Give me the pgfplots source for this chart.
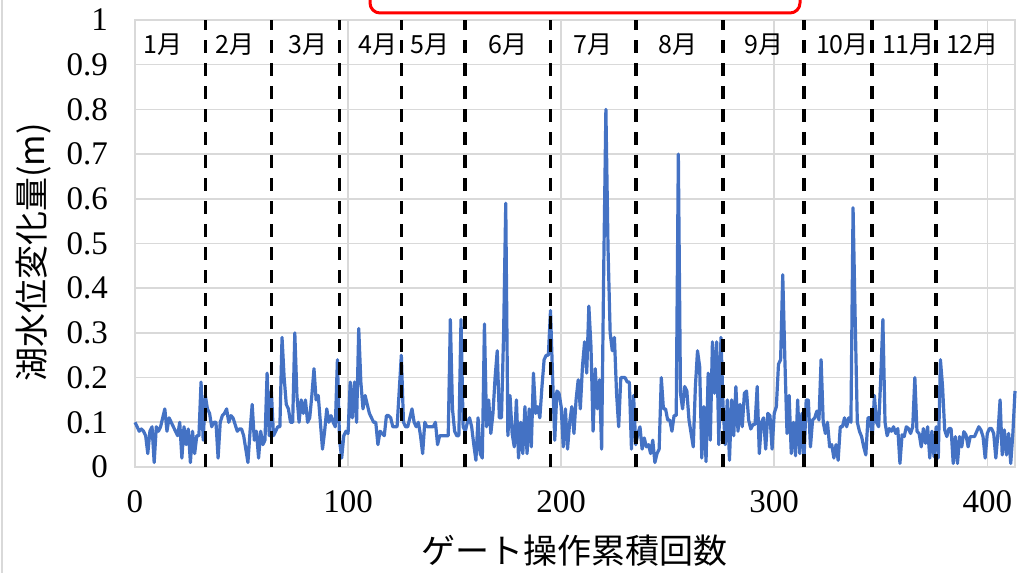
\documentclass[border=0pt]{standalone}
\usepackage{fontspec}
\setmainfont{Liberation Serif}
\newfontfamily\tnr{Liberation Serif}
\newfontfamily\jp{Noto Sans CJK JP}
\usepackage{pgfplots}
\pgfplotsset{compat=1.18}
\definecolor{lineblue}{RGB}{68,114,196}
\definecolor{gridgray}{RGB}{217,217,217}
\tikzset{month/.style={font=\jp\fontsize{12.5}{14}\selectfont, inner sep=1pt}}
\begin{document}
\begin{tikzpicture}
\useasboundingbox (-67.5pt,-53pt) rectangle (441.5pt,233.5pt);
\draw[gridgray, line width=0.8pt] (-66.6pt,-53pt) -- (-66.6pt,233.5pt);
\begin{axis}[
  at={(0pt,0pt)}, anchor=south west,
  scale only axis, width=440pt, height=223.5pt,
  xmin=0, xmax=413, ymin=0, ymax=1,
  xtick={0,100,200,300,400},
  xticklabels={0,100,200,300,400},
  ytick={0,0.1,0.2,0.3,0.4,0.5,0.6,0.7,0.8,0.9,1},
  yticklabels={0,0.1,0.2,0.3,0.4,0.5,0.6,0.7,0.8,0.9,1},
  major tick length=0pt,
  grid=major,
  major grid style={gridgray, line width=0.8pt},
  axis line style={gridgray, line width=0.8pt},
  /pgf/number format/assume math mode=true,
  tick label style={font=\tnr\fontsize{16.5}{18}\selectfont},
  xticklabel style={yshift=-8pt},
  yticklabel style={xshift=-10pt},
  xlabel={\jp ゲート操作累積回数},
  ylabel={\jp 湖水位変化量(m)},
  label style={font=\fontsize{17}{19}\selectfont},
  xlabel style={at={(axis description cs:0.5,-0.186)}, anchor=center},
  ylabel style={at={(axis description cs:-0.115,0.48)}, anchor=center, rotate=0},
  clip=false,
]
\addplot[lineblue, line width=1.6pt, line join=round] coordinates {
(0,0.10) (1,0.09) (2,0.08) (3,0.085) (4,0.08) (5,0.07) (6,0.03) (7,0.08) (8,0.09) (9,0.01)
(10,0.09) (11,0.08) (12,0.09) (13,0.11) (14,0.13) (15,0.08) (16,0.11) (17,0.10) (18,0.09) (19,0.08)
(20,0.07) (21,0.10) (22,0.02) (23,0.09) (24,0.05) (25,0.085) (26,0.01) (27,0.08) (28,0.03) (29,0.07)
(30,0.07) (31,0.19) (32,0.06) (33,0.16) (34,0.13) (35,0.12) (36,0.09) (37,0.10) (38,0.10) (39,0.02)
(40,0.10) (41,0.115) (42,0.12) (43,0.13) (44,0.10) (45,0.115) (46,0.11) (47,0.095) (48,0.08) (49,0.085)
(50,0.085) (51,0.07) (52,0.04) (53,0.01) (54,0.08) (55,0.14) (56,0.06) (57,0.08) (58,0.02) (59,0.08)
(60,0.05) (61,0.06) (62,0.21) (63,0.07) (64,0.17) (65,0.07) (66,0.08) (67,0.09) (68,0.09) (69,0.29)
(70,0.20) (71,0.14) (72,0.13) (73,0.10) (74,0.10) (75,0.30) (76,0.16) (77,0.10) (78,0.15) (79,0.12)
(80,0.15) (81,0.10) (82,0.11) (83,0.16) (84,0.22) (85,0.15) (86,0.16) (87,0.10) (88,0.04) (89,0.08)
(90,0.13) (91,0.10) (92,0.115) (93,0.10) (94,0.09) (95,0.24) (96,0.06) (97,0.02) (98,0.07) (99,0.08)
(100,0.075) (101,0.19) (102,0.11) (103,0.19) (104,0.10) (105,0.31) (106,0.19) (107,0.13) (108,0.16) (109,0.14)
(110,0.12) (111,0.11) (112,0.10) (113,0.10) (114,0.05) (115,0.08) (116,0.075) (117,0.07) (118,0.115) (119,0.115)
(120,0.11) (121,0.09) (122,0.09) (123,0.09) (124,0.17) (125,0.25) (126,0.10) (127,0.09) (128,0.09) (129,0.11)
(130,0.13) (131,0.10) (132,0.09) (133,0.10) (134,0.07) (135,0.03) (136,0.10) (137,0.09) (138,0.09) (139,0.09)
(140,0.09) (141,0.10) (142,0.05) (143,0.07) (144,0.07) (145,0.07) (146,0.07) (147,0.07) (148,0.33) (149,0.13)
(150,0.08) (151,0.07) (152,0.07) (153,0.33) (154,0.09) (155,0.08) (156,0.10) (157,0.11) (158,0.09) (159,0.05)
(160,0.015) (161,0.11) (162,0.03) (163,0.02) (164,0.32) (165,0.09) (166,0.15) (167,0.075) (168,0.12) (169,0.20)
(170,0.26) (171,0.11) (172,0.11) (173,0.30) (174,0.59) (175,0.07) (176,0.16) (177,0.075) (178,0.045) (179,0.15)
(180,0.02) (181,0.10) (182,0.03) (183,0.135) (184,0.03) (185,0.13) (186,0.045) (187,0.21) (188,0.12) (189,0.135)
(190,0.11) (191,0.18) (192,0.24) (193,0.25) (194,0.25) (195,0.35) (196,0.20) (197,0.06) (198,0.17) (199,0.165)
(200,0.135) (201,0.045) (202,0.13) (203,0.04) (204,0.10) (205,0.135) (206,0.075) (207,0.15) (208,0.195) (209,0.13)
(210,0.225) (211,0.28) (212,0.21) (213,0.36) (214,0.27) (215,0.08) (216,0.22) (217,0.13) (218,0.195) (219,0.04)
(220,0.45) (221,0.80) (222,0.49) (223,0.30) (224,0.26) (225,0.29) (226,0.165) (227,0.09) (228,0.20) (229,0.20)
(230,0.20) (231,0.19) (232,0.19) (233,0.04) (234,0.16) (235,0.05) (236,0.075) (237,0.09) (238,0.04) (239,0.065)
(240,0.045) (241,0.05) (242,0.03) (243,0.06) (244,0.01) (245,0.03) (246,0.04) (247,0.20) (248,0.13) (249,0.13)
(250,0.105) (251,0.105) (252,0.08) (253,0.115) (254,0.115) (255,0.70) (256,0.165) (257,0.13) (258,0.18) (259,0.17)
(260,0.105) (261,0.075) (262,0.045) (263,0.18) (264,0.26) (265,0.225) (266,0.02) (267,0.135) (268,0.012) (269,0.21)
(270,0.06) (271,0.28) (272,0.165) (273,0.28) (274,0.05) (275,0.29) (276,0.135) (277,0.05) (278,0.15) (279,0.015)
(280,0.15) (281,0.07) (282,0.18) (283,0.08) (284,0.14) (285,0.09) (286,0.165) (287,0.17) (288,0.105) (289,0.085)
(290,0.095) (291,0.095) (292,0.18) (293,0.03) (294,0.10) (295,0.11) (296,0.04) (297,0.12) (298,0.115) (299,0.04)
(300,0.12) (301,0.135) (302,0.23) (303,0.24) (304,0.43) (305,0.24) (306,0.075) (307,0.16) (308,0.03) (309,0.10)
(310,0.025) (311,0.15) (312,0.03) (313,0.12) (314,0.02) (315,0.15) (316,0.15) (317,0.045) (318,0.105) (319,0.11)
(320,0.125) (321,0.105) (322,0.24) (323,0.10) (324,0.075) (325,0.10) (326,0.045) (327,0.05) (328,0.02) (329,0.05)
(330,0.015) (331,0.09) (332,0.09) (333,0.11) (334,0.09) (335,0.11) (336,0.10) (337,0.58) (338,0.33) (339,0.10)
(340,0.08) (341,0.068) (342,0.045) (343,0.027) (344,0.11) (345,0.11) (346,0.064) (347,0.16) (348,0.10) (349,0.09)
(350,0.20) (351,0.33) (352,0.10) (353,0.07) (354,0.086) (355,0.08) (356,0.09) (357,0.075) (358,0.086) (359,0.008)
(360,0.072) (361,0.068) (362,0.09) (363,0.086) (364,0.075) (365,0.09) (366,0.20) (367,0.08) (368,0.075) (369,0.045)
(370,0.086) (371,0.053) (372,0.09) (373,0.02) (374,0.08) (375,0.023) (376,0.09) (377,0.02) (378,0.24) (379,0.18)
(380,0.083) (381,0.068) (382,0.086) (383,0.086) (384,0.008) (385,0.068) (386,0.008) (387,0.068) (388,0.045) (389,0.079)
(390,0.072) (391,0.045) (392,0.068) (393,0.068) (394,0.068) (395,0.079) (396,0.09) (397,0.083) (398,0.068) (399,0.02)
(400,0.075) (401,0.086) (402,0.086) (403,0.075) (404,0.02) (405,0.075) (406,0.15) (407,0.027) (408,0.083) (409,0.027)
(410,0.075) (411,0.008) (412,0.075) (413,0.17)
};
\pgfplotsinvokeforeach{33,64,96,125,155,195,235,276,314,346,376}{
  \addplot[black, line width=1.8pt, dash pattern=on 6.5pt off 5pt] coordinates {(#1,0) (#1,1)};
}
\node[month] at (axis cs:13,0.944) {1月};
\node[month] at (axis cs:47,0.944) {2月};
\node[month] at (axis cs:81,0.944) {3月};
\node[month] at (axis cs:114,0.944) {4月};
\node[month] at (axis cs:138.5,0.944) {5月};
\node[month] at (axis cs:175,0.944) {6月};
\node[month] at (axis cs:215,0.944) {7月};
\node[month] at (axis cs:255,0.944) {8月};
\node[month] at (axis cs:295,0.944) {9月};
\node[month] at (axis cs:332,0.944) {10月};
\node[month] at (axis cs:363,0.944) {11月};
\node[month] at (axis cs:393,0.944) {12月};
\end{axis}
\draw[red, line width=1.5pt, rounded corners=5pt] (117.5pt,227pt) rectangle (332.5pt,250pt);
\end{tikzpicture}
\end{document}
